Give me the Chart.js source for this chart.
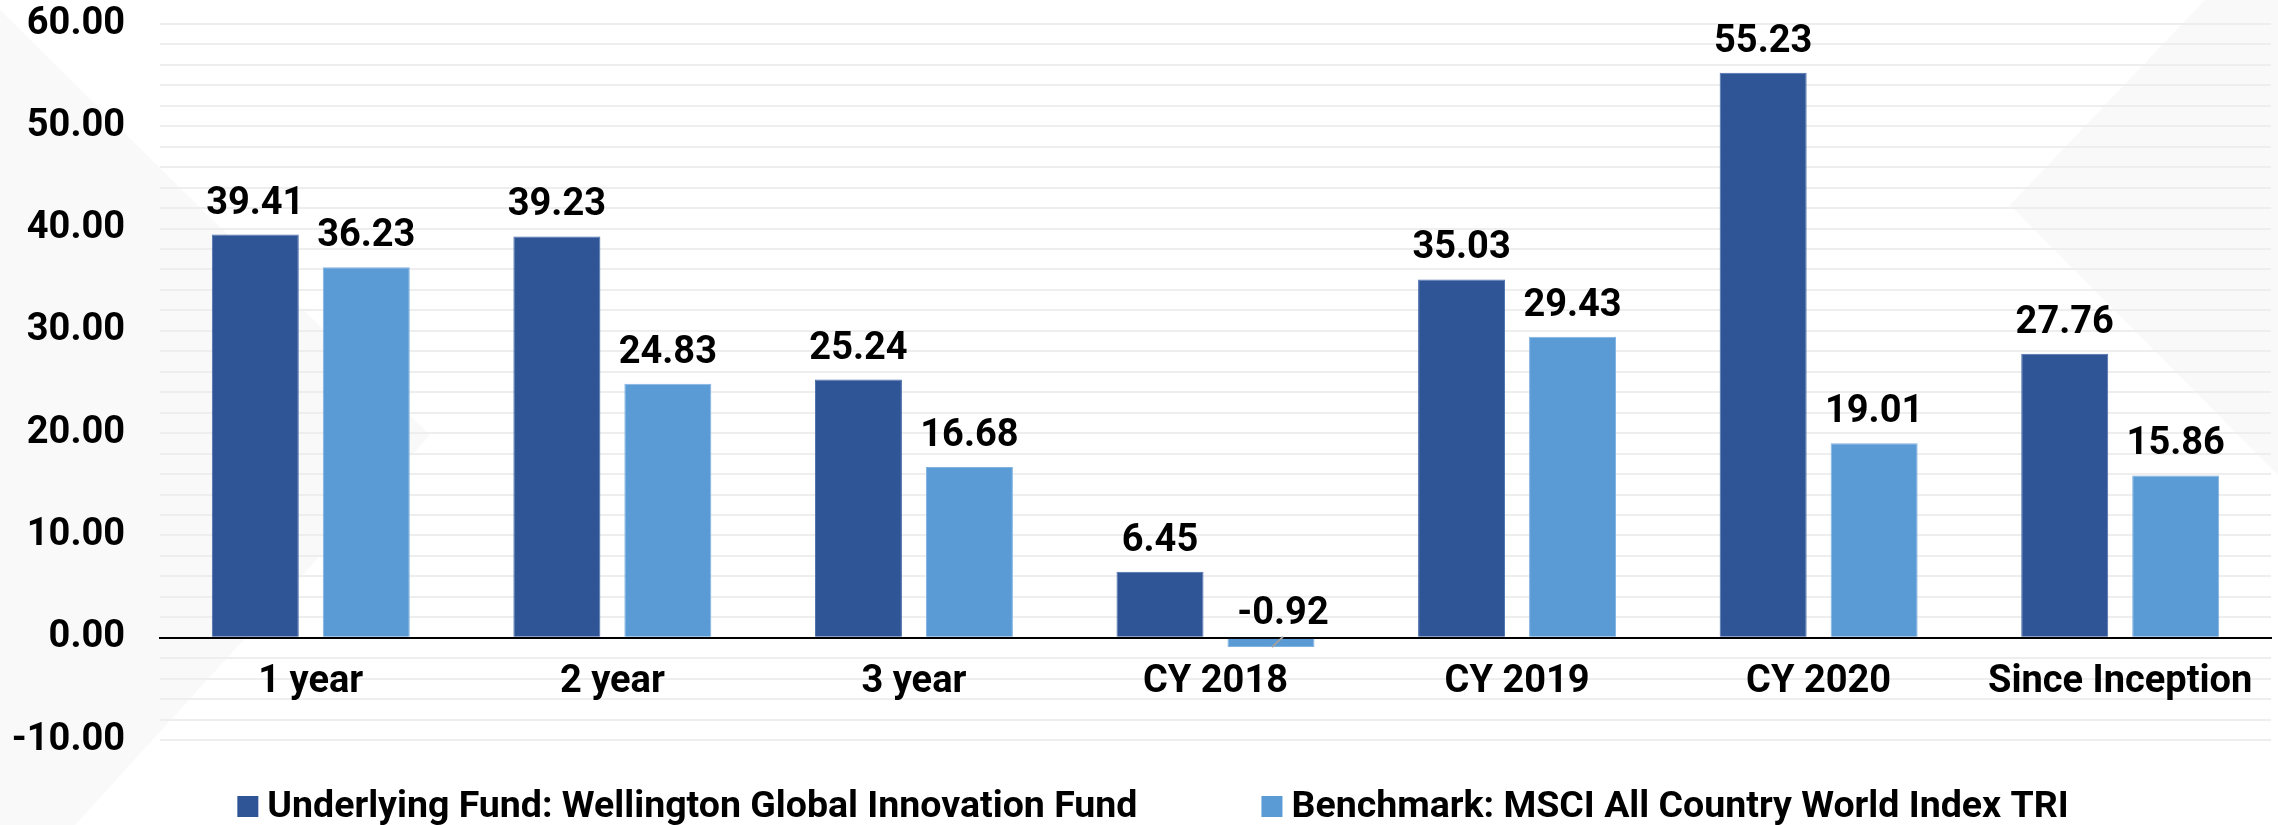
<!DOCTYPE html>
<html>
<head>
<meta charset="utf-8">
<style>
  html, body { margin: 0; padding: 0; background: #ffffff; }
  #wrap { width: 2278px; height: 825px; }
  canvas { display: block; }
</style>
<script src="https://cdn.jsdelivr.net/npm/chart.js@4.4.1/dist/chart.umd.min.js"></script>
</head>
<body>
<div id="wrap"><canvas id="c" width="2278" height="825"></canvas></div>
<script>
// ---- Data ----
const categories = ['1 year', '2 year', '3 year', 'CY 2018', 'CY 2019', 'CY 2020', 'Since Inception'];
const fundLabel = 'Underlying Fund: Wellington Global Innovation Fund';
const benchLabel = 'Benchmark: MSCI All Country World Index TRI';
const fundValues = [39.41, 39.23, 25.24, 6.45, 35.03, 55.23, 27.76];
const benchValues = [36.23, 24.83, 16.68, -0.92, 29.43, 19.01, 15.86];
const yMin = -10;
const yMax = 60;
const yLabelStep = 10;
const yGridStep = 2;

// ---- Styles ----
const FONT = 'Roboto';
const fundColor = '#2F5597';
const benchColor = '#5B9BD5';

const backgroundPlugin = {
  id: 'bgShapes',
  beforeDraw(chart) {
    const ctx = chart.ctx;
    const W = chart.width, H = chart.height;
    ctx.save();
    ctx.fillStyle = '#ffffff';
    ctx.fillRect(0, 0, W, H);
    ctx.fillStyle = '#f9f9f9';
    ctx.beginPath();
    ctx.moveTo(0, 10);
    ctx.lineTo(430, 435);
    ctx.lineTo(75, 825);
    ctx.lineTo(0, 825);
    ctx.closePath();
    ctx.fill();
    ctx.beginPath();
    ctx.moveTo(2205, 0);
    ctx.lineTo(W, 0);
    ctx.lineTo(W, 475);
    ctx.lineTo(2010, 205);
    ctx.closePath();
    ctx.fill();
    ctx.restore();
  }
};

const valueLabelPlugin = {
  id: 'valueLabels',
  afterDatasetsDraw(chart) {
    const ctx = chart.ctx;
    ctx.save();
    ctx.font = 'bold 38px ' + FONT;
    ctx.fillStyle = '#000000';
    ctx.textAlign = 'center';
    ctx.textBaseline = 'alphabetic';
    chart.data.datasets.forEach((ds, di) => {
      const meta = chart.getDatasetMeta(di);
      meta.data.forEach((el, i) => {
        const v = ds.data[i];
        const txt = v.toFixed(2);
        if (v >= 0) {
          ctx.fillText(txt, el.x, el.y - 21);
        } else {
          const base = el.base;
          ctx.strokeStyle = '#a0a0a0';
          ctx.lineWidth = 2;
          ctx.beginPath();
          ctx.moveTo(el.x + 1, el.y);
          ctx.lineTo(el.x + 12, base - 2);
          ctx.stroke();
          ctx.fillText(txt, el.x + 12, base - 15);
        }
      });
    });
    ctx.restore();
  }
};

const legendPlugin = {
  id: 'customLegend',
  afterDraw(chart) {
    const ctx = chart.ctx;
    ctx.save();
    ctx.font = 'bold 37.5px ' + FONT;
    ctx.textBaseline = 'middle';
    ctx.textAlign = 'left';
    const box = 21, gapText = 9, gapItem = 124;
    const items = chart.data.datasets.map(ds => ({
      text: ds.label, color: ds.backgroundColor, w: ctx.measureText(ds.label).width
    }));
    let total = 0;
    items.forEach((it, i) => { total += box + gapText + it.w + (i ? gapItem : 0); });
    let x = 1153 - total / 2;
    const cy = 806.5;
    items.forEach((it) => {
      ctx.fillStyle = it.color;
      ctx.fillRect(x, cy - box / 2, box, box);
      ctx.fillStyle = '#000000';
      ctx.fillText(it.text, x + box + gapText, cy + 1);
      x += box + gapText + it.w + gapItem;
    });
    ctx.restore();
  }
};

function build() {
  const ctx = document.getElementById('c').getContext('2d');
  new Chart(ctx, {
    type: 'bar',
    data: {
      labels: categories,
      datasets: [
        { label: fundLabel, data: fundValues, backgroundColor: fundColor, borderColor: '#4A6DAA', borderWidth: 1,
          categoryPercentage: 0.736, barPercentage: 0.784 },
        { label: benchLabel, data: benchValues, backgroundColor: benchColor, borderColor: '#80B3E2', borderWidth: 1,
          categoryPercentage: 0.736, barPercentage: 0.784 }
      ]
    },
    options: {
      responsive: false,
      animation: false,
      devicePixelRatio: 1,
      layout: { padding: { left: 0, right: 7, top: 24, bottom: 85 } },
      plugins: {
        legend: { display: false },
        tooltip: { enabled: false },
        title: { display: false }
      },
      scales: {
        y: {
          min: yMin, max: yMax,
          afterFit(scale) { scale.width = 160; scale.paddingTop = 0; scale.paddingBottom = 0; },
          border: { display: false },
          grid: { color: '#eeeeee', lineWidth: 2, drawTicks: false },
          ticks: {
            stepSize: yGridStep,
            autoSkip: false,
            padding: 35,
            color: '#000000',
            font: { family: FONT, weight: 'bold', size: 38 },
            callback: (v) => (v % yLabelStep === 0 ? Number(v).toFixed(2) : '')
          }
        },
        x: {
          position: { y: 0 },
          afterFit(scale) { scale.height = 0; },
          border: { display: true, color: '#000000', width: 2 },
          grid: { display: true, color: 'rgba(0,0,0,0)', drawTicks: false, drawOnChartArea: false },
          ticks: {
            autoSkip: false,
            maxRotation: 0,
            padding: 22,
            color: '#000000',
            font: { family: FONT, weight: 'bold', size: 38 }
          }
        }
      }
    },
    plugins: [backgroundPlugin, valueLabelPlugin, legendPlugin]
  });
}

if (document.fonts && document.fonts.load) {
  Promise.all([document.fonts.load('bold 38px Roboto'), document.fonts.load('bold 37.5px Roboto')])
    .then(build, build);
} else {
  build();
}
</script>
</body>
</html>
